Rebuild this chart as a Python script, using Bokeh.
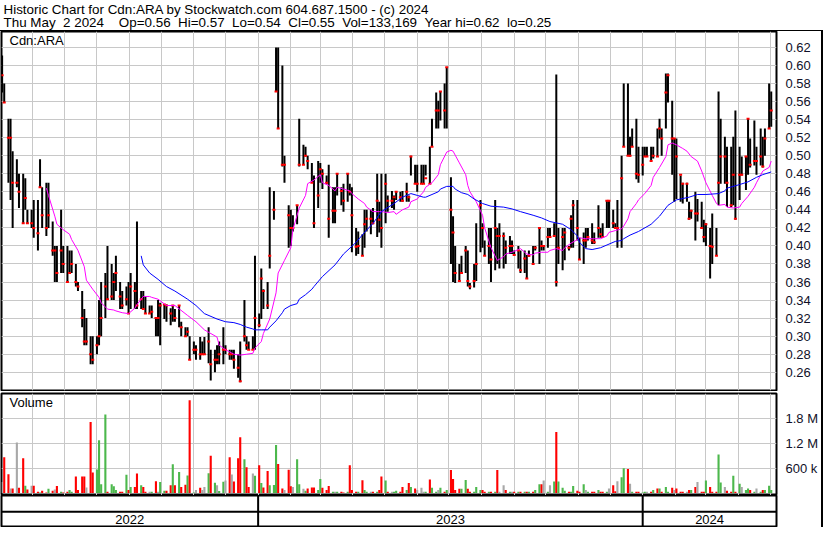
import pandas as pd
from bokeh.plotting import figure
from bokeh.layouts import column
from bokeh.models import Range1d, FixedTicker, Grid, Label, Span, NumeralTickFormatter, ColumnDataSource
from bokeh.embed import file_html
from bokeh.resources import INLINE
from bokeh.core.properties import value

# ---------------- data (one bar = two trading days) ----------------
hi_a = [.611,.58,.541,.541,.505,.496,.48,.48,.475,.44,.44,.451,.451,.496,.465,.47,.47,.427,.40,.40,.44,.40,.40,.395,.395,.38,.36,.35,.33,.32,.30,.30,.30,.34,.36,.37,.40,.38,.37,.389,.36,.35,.355,.36,.37,.36,.427,.35,.35,.344,.334,.334,.32]
lo_a = [.57,.559,.47,.451,.42,.465,.442,.425,.44,.425,.42,.409,.395,.465,.42,.411,.42,.389,.36,.36,.37,.37,.36,.37,.37,.355,.35,.31,.29,.29,.269,.269,.28,.29,.30,.32,.34,.34,.34,.35,.33,.33,.334,.325,.33,.33,.33,.33,.33,.325,.325,.32,.30]
cl_a = [.589,.559,.52,.52,.47,.47,.46,.425,.453,.425,.425,.42,.414,.465,.434,.42,.434,.395,.395,.37,.395,.38,.36,.37,.38,.36,.355,.32,.294,.294,.28,.274,.29,.30,.32,.355,.341,.344,.36,.37,.344,.334,.341,.325,.355,.35,.334,.341,.33,.325,.325,.327,.32]

hi_b = [.34,.337,.335,.335,.331,.334,.33,.334,.316,.31,.31,.30,.294,.29,.299,.294,.299,.31,.285,.285,.29,.294,.31,.29,.285,.285,.285,.28,.294,.34,.30,.294,.30,.389,.325,.375,.352,.36,.465,.461,.62,.62,.60,.50,.445,.44,.434,.445,.541,.512,.51,.50,.492]
lo_b = [.30,.29,.319,.316,.312,.316,.316,.31,.30,.30,.30,.274,.28,.274,.274,.28,.28,.27,.251,.26,.269,.269,.269,.28,.274,.274,.264,.254,.249,.294,.285,.285,.285,.285,.31,.319,.33,.33,.375,.429,.571,.53,.488,.47,.398,.40,.416,.424,.488,.49,.499,.485,.47]
cl_b = [.32,.334,.335,.334,.325,.334,.32,.334,.31,.30,.305,.274,.285,.285,.28,.28,.28,.294,.269,.274,.274,.28,.285,.285,.28,.28,.274,.265,.25,.30,.29,.285,.285,.32,.312,.364,.35,.334,.389,.44,.571,.53,.49,.49,.434,.42,.42,.445,.49,.49,.50,.494,.47]

hi_c = [.478,.494,.492,.485,.478,.49,.465,.465,.48,.465,.469,.48,.469,.465,.42,.416,.413,.44,.44,.44,.442,.48,.449,.48,.48,.456,.461,.456,.46,.46,.461,.47,.456,.50,.49,.49,.49,.49,.49,.51,.541,.57,.561,.571,.58,.598,.476,.433,.40,.38,.389,.40,.395,.359]
lo_c = [.42,.442,.47,.463,.469,.409,.425,.425,.456,.445,.438,.449,.456,.393,.389,.391,.389,.398,.416,.413,.424,.41,.415,.398,.425,.438,.442,.44,.451,.449,.449,.449,.449,.478,.469,.46,.469,.469,.478,.469,.51,.53,.53,.539,.53,.53,.38,.36,.359,.361,.37,.37,.355,.352]
cl_c = [.425,.456,.485,.48,.47,.43,.439,.439,.48,.461,.45,.48,.46,.434,.399,.40,.389,.424,.43,.43,.425,.45,.429,.42,.469,.45,.45,.454,.46,.454,.45,.46,.454,.499,.469,.469,.469,.469,.475,.469,.51,.55,.55,.571,.55,.598,.44,.415,.37,.361,.37,.395,.361,.355]

hi_d = [.38,.425,.451,.425,.406,.42,.42,.451,.42,.425,.415,.406,.411,.406,.395,.40,.395,.395,.39,.395,.40,.40,.42,.406,.40,.42,.42,.425,.59,.42,.42,.42,.40,.434,.451,.451,.409,.415,.42,.42,.425,.415,.445,.42,.425,.451,.451,.44,.425,.451,.50,.58,.58]
lo_d = [.354,.361,.393,.398,.389,.38,.36,.373,.38,.375,.375,.38,.391,.391,.389,.375,.37,.37,.364,.388,.38,.395,.38,.395,.395,.398,.41,.411,.355,.38,.373,.384,.395,.398,.398,.406,.385,.38,.398,.406,.402,.402,.409,.409,.409,.42,.42,.42,.42,.398,.398,.51,.50]
cl_d = [.361,.38,.445,.42,.389,.40,.385,.42,.411,.411,.411,.398,.40,.40,.39,.395,.373,.386,.364,.389,.38,.398,.42,.40,.40,.41,.41,.411,.36,.398,.41,.415,.398,.43,.445,.42,.385,.406,.406,.41,.406,.404,.42,.413,.41,.45,.45,.425,.42,.42,.475,.51,.50]

hi_e = [.521,.53,.541,.51,.51,.51,.51,.51,.51,.53,.541,.53,.591,.591,.561,.519,.519,.478,.47,.47,.449,.44,.46,.452,.449,.429,.425,.42,.436,.42,.571,.541,.521,.51,.51,.521,.55,.51,.499,.499,.541,.519,.539,.51,.53,.521,.53,.58,.571]
lo_e = [.499,.51,.474,.47,.478,.499,.499,.494,.497,.499,.519,.50,.53,.559,.479,.449,.452,.449,.447,.449,.429,.43,.406,.427,.42,.404,.40,.364,.38,.389,.445,.469,.469,.443,.443,.445,.429,.451,.478,.462,.479,.487,.489,.479,.489,.487,.50,.53,.532]
cl_e = [.50,.51,.48,.479,.49,.499,.499,.494,.50,.499,.53,.519,.57,.589,.519,.519,.499,.479,.469,.469,.43,.439,.436,.436,.42,.41,.424,.40,.399,.389,.47,.499,.499,.47,.445,.479,.43,.479,.479,.499,.541,.49,.494,.494,.499,.488,.519,.53,.55]

# volume, thousands of shares
vol_a = [262,861,454,108,108,1223,123,838,177,85,177,177,31,8,54,8,100,54,85,169,31,8,31,69,31,400,69,400,400,131,1715,492,569,1277,208,1900,31,208,162,69,31,31,438,69,146,146,469,185,146,31,31,31,285]
vol_b = [31,262,54,54,185,692,185,508,146,200,423,2246,8,69,123,69,146,477,900,246,185,46,269,300,861,446,277,838,1346,815,623,146,469,415,669,238,131,531,185,192,1161,700,108,69,562,162,146,815,208,100,54,108,131]
vol_c = [131,69,338,123,69,169,31,31,31,31,8,31,669,69,31,31,308,69,31,31,31,31,69,400,300,31,31,31,54,31,146,69,238,146,108,69,123,31,31,323,123,31,69,123,31,69,554,338,69,100,100,315,100,31]
vol_d = [31,146,69,69,31,31,31,31,554,31,185,69,31,31,31,31,31,31,31,31,31,69,208,208,300,31,185,277,1477,277,123,54,31,31,169,54,31,208,69,31,31,31,69,31,31,31,108,185,38,285,377,600,577]
vol_e = [223,31,31,31,8,31,31,31,69,108,108,31,146,31,123,69,108,31,31,31,69,69,146,262,31,31,300,146,31,31,930,254,146,54,31,415,31,223,146,69,108,69,31,108,31,69,69,177,69]

# moving averages: (bar index, value)
ma_fast_k = [15,16,18,19,21,23,24,26,28,29,31,33,34,36,38,39,41,43,45,46,48,50,51,53,56,59,63,66,69,73,74,76,79,81,83,85,86,88,89,91,93,94,96,98,99,101,103,104,106,108,109,111,113,114,116,118,119,121,123,124,126,128,129,131,133,134,136,138,139,141,143,144,146,148,149,151,152,153,155,157,158,159,161,163,164,166,168,170,171,173,175,176,178,180,181,183,185,186,188,190,191,193,195,196,198,200,201,203,205,206,208,210,211,212,213,215,216,218,220,221,223,225,226,227,229,231,232,234,236,237,239,241,242,243,245,246,248,250,251,253,255,256,258,260,261]
ma_fast_v = [.464,.456,.433,.424,.418,.413,.407,.395,.377,.362,.352,.343,.337,.33,.329,.328,.326,.325,.331,.335,.344,.344,.343,.341,.334,.334,.323,.316,.307,.299,.29,.285,.28,.279,.28,.281,.287,.294,.303,.319,.348,.37,.384,.398,.418,.442,.456,.469,.473,.479,.47,.467,.461,.465,.463,.461,.458,.452,.447,.443,.438,.438,.438,.437,.438,.435,.44,.443,.449,.452,.46,.465,.47,.479,.49,.504,.506,.505,.492,.479,.467,.46,.449,.434,.42,.398,.384,.388,.391,.393,.396,.397,.391,.39,.392,.393,.393,.395,.397,.395,.398,.403,.407,.409,.408,.408,.408,.408,.411,.415,.417,.419,.422,.43,.438,.447,.451,.458,.467,.476,.487,.499,.512,.514,.512,.508,.505,.499,.494,.483,.47,.456,.447,.445,.446,.443,.442,.443,.447,.455,.465,.47,.483,.487,.494]
ma_slow_k = [47,48,50,53,56,59,63,66,69,73,76,79,81,83,85,86,88,90,91,93,95,96,98,100,101,103,105,106,109,113,116,120,123,126,129,133,136,139,141,143,144,146,148,149,151,153,154,156,158,160,163,166,170,173,176,180,183,186,190,193,195,196,198,200,203,206,208,210,211,213,216,220,223,226,229,233,236,239,243,245,246,250,253,256,258,261]
ma_slow_v = [.389,.379,.37,.363,.355,.35,.341,.334,.325,.319,.316,.315,.313,.31,.308,.307,.307,.307,.31,.317,.326,.33,.334,.336,.341,.346,.352,.355,.366,.379,.391,.404,.415,.425,.438,.447,.454,.458,.456,.454,.454,.457,.46,.463,.466,.466,.463,.459,.457,.452,.447,.444,.443,.441,.438,.434,.431,.427,.424,.418,.411,.404,.397,.396,.398,.402,.405,.406,.408,.412,.416,.424,.433,.445,.451,.454,.457,.457,.458,.461,.464,.468,.471,.476,.479,.482]

price_ticks = [0.26, 0.28, 0.30, 0.32, 0.34, 0.36, 0.38, 0.40, 0.42, 0.44, 0.46, 0.48, 0.50, 0.52, 0.54, 0.56, 0.58, 0.60, 0.62]
volume_ticks = [600, 1200, 1800]
volume_tick_labels = {600: "600 k", 1200: "1.2 M", 1800: "1.8 M"}
title_line1 = "Historic Chart for Cdn:ARA by Stockwatch.com 604.687.1500 - (c) 2024"
S2 = " \u00a0"
title_line2 = ("Thu May" + S2 + "2 2024" + S2 + "\u00a0 Op=0.56" + S2 + "Hi=0.57" + S2 + "Lo=0.54" + S2
               + "Cl=0.55" + S2 + "Vol=133,169" + S2 + "Year hi=0.62" + S2 + "lo=0.25")
symbol = "Cdn:ARA"

# ---------------- assemble ----------------
hi = hi_a + hi_b + hi_c + hi_d + hi_e
lo = lo_a + lo_b + lo_c + lo_d + lo_e
cl = cl_a + cl_b + cl_c + cl_d + cl_e
vol = vol_a + vol_b + vol_c + vol_d + vol_e
n = len(hi)
dates = list(pd.bdate_range("2022-05-03", periods=2 * n, freq="B")[::2])

GREEN, RED, GRAY = "#4cb84c", "#ff0000", "#a8a8a8"
vcol = [GRAY] + [GREEN if c > p else (RED if c < p else GRAY) for p, c in zip(cl[:-1], cl[1:])]
src = ColumnDataSource(dict(x=dates, hi=hi, lo=lo, cl=cl, vol=vol, vc=vcol))

FONT = "Liberation Sans"
GRID = "#c8c8c8"
FW = 775          # frame width
RB = 36           # right label column
TOTAL_W = 1 + FW + RB + 2

x_start = pd.Timestamp("2022-05-02 10:00")
x_end = pd.Timestamp("2024-05-07 00:00")
xr = Range1d(start=x_start, end=x_end)
month_ms = [t.value / 1e6 for t in pd.date_range("2022-06-01", "2024-05-01", freq="MS")]
year_starts = [t for t in pd.date_range("2023-01-01", "2024-01-01", freq="YS")]


def style_axis(ax):
    ax.major_tick_line_color = None
    ax.minor_tick_line_color = None
    ax.axis_line_color = None
    ax.major_label_text_font = FONT
    ax.major_label_text_font_size = "13px"
    ax.major_label_text_color = "#101028"
    ax.major_label_standoff = 3


def base(fh, yr, top=1, bottom=1):
    f = figure(frame_width=FW, frame_height=fh, x_range=xr, y_range=yr, x_axis_type=None,
               y_axis_location="right", output_backend="svg", toolbar_location=None,
               min_border_left=1, min_border_right=RB, min_border_top=top, min_border_bottom=bottom,
               background_fill_color="white", border_fill_color="white")
    f.outline_line_color = "black"
    f.outline_line_width = 2
    f.add_layout(Grid(dimension=0, ticker=FixedTicker(ticks=month_ms), grid_line_color=GRID, grid_line_width=1))
    f.ygrid.grid_line_color = GRID
    style_axis(f.yaxis[0])
    return f

# header
hdr = figure(frame_width=TOTAL_W, frame_height=30, x_range=Range1d(0, TOTAL_W), y_range=Range1d(0, 30),
             x_axis_type=None, y_axis_type=None, output_backend="svg", toolbar_location=None,
             min_border=0, outline_line_color=None)
hdr.grid.visible = False
hdr.add_layout(Label(x=3, y=21.5, text=title_line1, text_font=FONT, text_font_size="13.4px",
                     text_color="black", text_baseline="alphabetic"))
hdr.add_layout(Label(x=3, y=8, text=title_line2, text_font=FONT, text_font_size="13.4px",
                     text_color="black", text_baseline="alphabetic"))

# price panel
pp = base(359, Range1d(0.2398, 0.6376), top=0, bottom=1)
pp.yaxis.ticker = FixedTicker(ticks=price_ticks)
pp.ygrid.ticker = FixedTicker(ticks=price_ticks)
pp.yaxis.formatter = NumeralTickFormatter(format="0.00")
pp.segment(x0="x", y0="lo", x1="x", y1="hi", source=src, line_color="black", line_width=2)
pp.rect(x="x", y="cl", width=3, height=2, width_units="screen", height_units="screen", source=src,
        fill_color=RED, line_color=None)
pp.line([dates[k] for k in ma_fast_k], ma_fast_v, line_color="#ff00ff", line_width=1)
pp.line([dates[k] for k in ma_slow_k], ma_slow_v, line_color="#0000ff", line_width=1)
pp.add_layout(Label(x=x_start, y=0.6376, x_offset=8, y_offset=-16, text=symbol, text_font=FONT,
                    text_font_size="13px", text_color="black"))

# volume panel
vp = base(102, Range1d(-62, 2407), top=2, bottom=0)
vp.yaxis.ticker = FixedTicker(ticks=volume_ticks)
vp.ygrid.ticker = FixedTicker(ticks=volume_ticks)
vp.yaxis.major_label_overrides = volume_tick_labels
vp.vbar(x="x", top="vol", bottom=0, width=2 * 86400000, source=src, fill_color="vc", line_color=None)
vp.add_layout(Label(x=x_start, y=2407, x_offset=8, y_offset=-16, text="Volume", text_font=FONT,
                    text_font_size="13px", text_color="black"))

# year strip
yp = figure(frame_width=FW, frame_height=31, x_range=xr, y_range=Range1d(0, 2), x_axis_type=None, y_axis_type=None,
            output_backend="svg", toolbar_location=None, min_border_left=1, min_border_right=RB,
            min_border_top=0, min_border_bottom=1)
yp.grid.visible = False
yp.outline_line_color = "black"
yp.outline_line_width = 2
yp.add_layout(Span(location=0.95, dimension="width", line_color="black", line_width=2))
for ys in year_starts:
    yp.add_layout(Span(location=ys.value / 1e6, dimension="height", line_color="black", line_width=2))
edges = [x_start] + year_starts + [x_end]
mids = [a + (b - a) / 2 for a, b in zip(edges[:-1], edges[1:])]
labels = [str(a.year) for a in edges[:-1]]
yp.text(x=mids, y=[0.45] * len(mids), text=labels, text_font=value(FONT), text_font_size="13px",
        text_align="center", text_baseline="middle", text_color="black")

body = column(pp, vp, yp, spacing=0, styles={"border-top": "1px solid black", "border-right": "2px solid black"})
layout = column(hdr, body, spacing=0)
open("out.html", "w").write(file_html(layout, INLINE))
